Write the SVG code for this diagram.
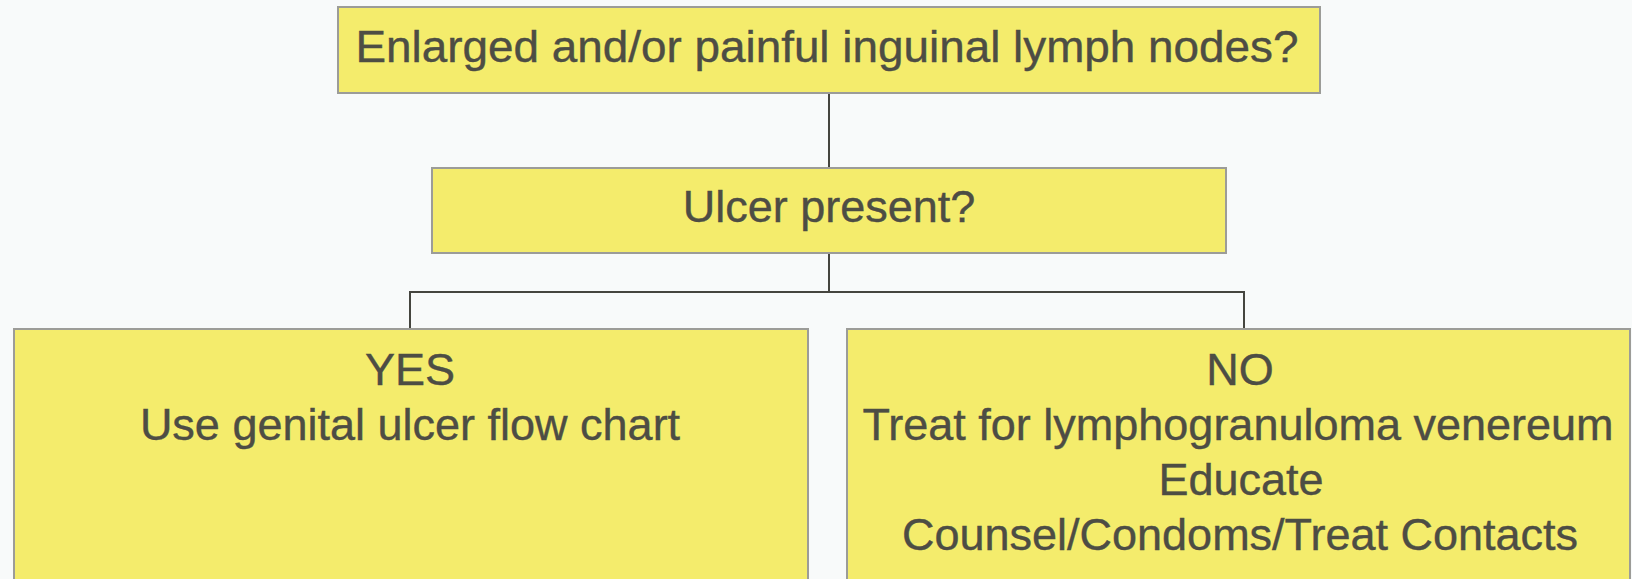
<svg xmlns="http://www.w3.org/2000/svg" width="1632" height="579" viewBox="0 0 1632 579">
  <style>
    .box { fill: #f4ec6c; stroke: #9c9c98; stroke-width: 2; }
    .txt { font-family: "Liberation Sans", Arial, sans-serif; font-size: 45px; fill: #4d4d44; stroke: #4d4d44; stroke-width: 0.4; text-anchor: middle; }
    .conn { stroke: #45453f; stroke-width: 2; fill: none; }
  </style>
  <rect width="1632" height="579" fill="#f8fafa"/>
  <g id="connectors">
    <line class="conn" x1="829" y1="93" x2="829" y2="168"/>
    <polyline class="conn" points="829,253 829,292"/>
    <polyline class="conn" points="410,329 410,292 1244,292 1244,329"/>
  </g>
  <g id="node-lymph">
    <rect class="box" x="338" y="7" width="982" height="86"/>
    <text class="txt" x="827" y="62" font-size="46" textLength="943" lengthAdjust="spacingAndGlyphs">Enlarged and/or painful inguinal lymph nodes?</text>
  </g>
  <g id="node-ulcer">
    <rect class="box" x="432" y="168" width="794" height="85"/>
    <text class="txt" x="829" y="222">Ulcer present?</text>
  </g>
  <g id="node-yes">
    <rect class="box" x="14" y="329" width="794" height="260"/>
    <text class="txt" x="410" y="385">YES</text>
    <text class="txt" x="410" y="440">Use genital ulcer flow chart</text>
  </g>
  <g id="node-no">
    <rect class="box" x="847" y="329" width="783" height="260"/>
    <text class="txt" x="1240" y="385">NO</text>
    <text class="txt" x="1238" y="440">Treat for lymphogranuloma venereum</text>
    <text class="txt" x="1241" y="495">Educate</text>
    <text class="txt" x="1240" y="550">Counsel/Condoms/Treat Contacts</text>
  </g>
</svg>
